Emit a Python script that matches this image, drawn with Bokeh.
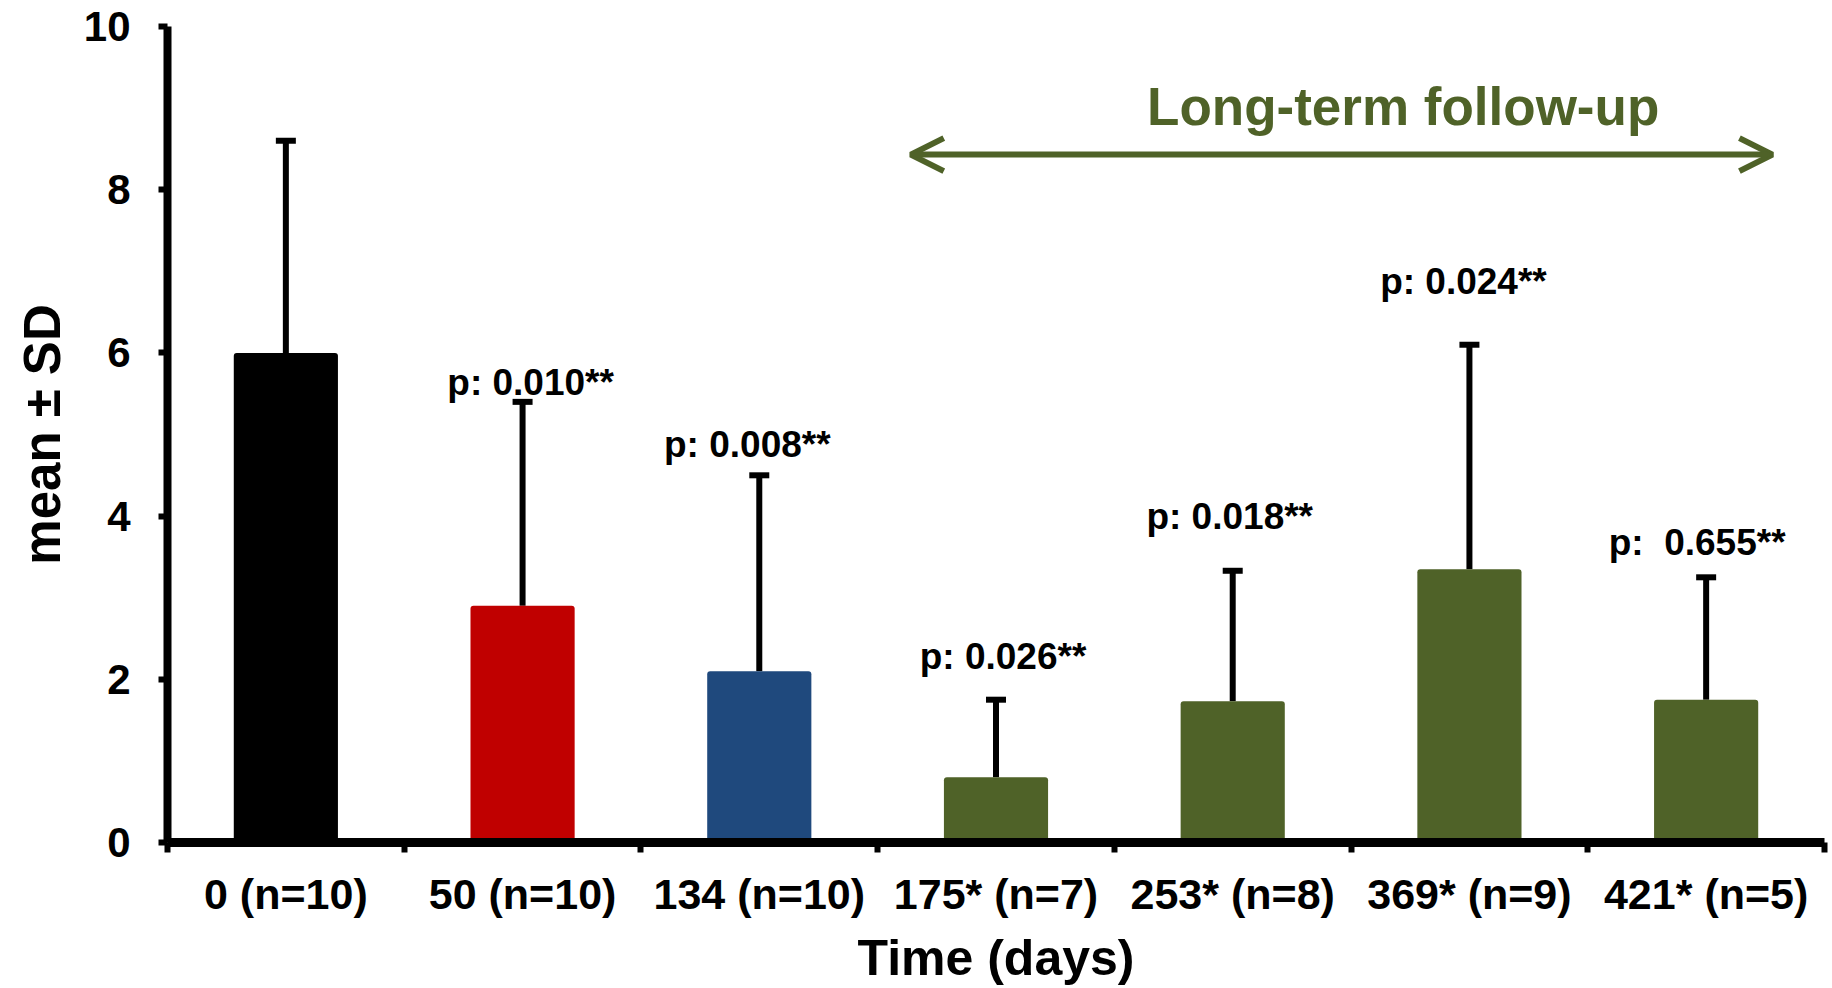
from bokeh.plotting import figure
from bokeh.models import (ColumnDataSource, Range1d, FixedTicker, Whisker, TeeHead,
                          Arrow, OpenHead, Label)
from bokeh.core.properties import value
from bokeh.embed import file_html
from bokeh.resources import INLINE

# Follow-up time points, group means and standard deviations
categories = ["0 (n=10)", "50 (n=10)", "134 (n=10)", "175* (n=7)",
              "253* (n=8)", "369* (n=9)", "421* (n=5)"]
means = [6.0, 2.9, 2.1, 0.8, 1.73, 3.35, 1.75]
sds = [2.6, 2.5, 2.4, 0.95, 1.6, 2.75, 1.5]
bar_colors = ["#000000", "#C00000", "#1F497D", "#4F6228", "#4F6228", "#4F6228", "#4F6228"]

# p-values versus baseline, the height (axis units) at which each is printed,
# and a small horizontal nudge in pixels
p_labels = ["", "p: 0.010**", "p: 0.008**", "p: 0.026**", "p: 0.018**", "p: 0.024**",
            "p:\u00a0 0.655**"]
p_label_y = [0.0, 5.64, 4.88, 2.28, 4.0, 6.87, 3.68]
p_label_dx = [0, 8, -12, 7, -3, -6, -9]

y_ticks = [0, 2, 4, 6, 8, 10]

FONT_NAME = "Liberation Sans"
GREEN = "#4F6228"

xs = list(range(len(categories)))
upper = [m + s for m, s in zip(means, sds)]
src = ColumnDataSource(dict(x=xs, mean=means, upper=upper, color=bar_colors))
lab_src = ColumnDataSource(dict(x=xs[1:], y=p_label_y[1:], text=p_labels[1:], dx=p_label_dx[1:]))

p = figure(width=1832, height=988, output_backend="svg", toolbar_location=None,
           x_range=Range1d(-0.5, len(categories) - 0.5), y_range=Range1d(0, 10),
           min_border_left=167, min_border_right=8, min_border_top=26, min_border_bottom=140)
p.outline_line_color = None
p.grid.visible = False
p.background_fill_color = "white"
p.border_fill_color = "white"

p.vbar(x="x", top="mean", bottom=0, width=0.44, fill_color="color", line_color=None,
       border_radius=3, source=src)

p.add_layout(Whisker(source=src, base="x", lower="mean", upper="upper", dimension="height",
                     line_color="black", line_width=6,
                     upper_head=TeeHead(size=20, line_width=6, line_color="black"),
                     lower_head=None))

p.text(x="x", y="y", text="text", x_offset="dx", source=lab_src, text_font=value(FONT_NAME),
       text_font_style="bold", text_font_size="37px", text_align="center",
       text_baseline="middle", text_color="black")

# Long-term follow-up span
p.add_layout(Arrow(x_start=2.64, x_end=6.28, y_start=8.43, y_end=8.43,
                   line_color=GREEN, line_width=6,
                   start=OpenHead(size=33, line_color=GREEN, line_width=6),
                   end=OpenHead(size=33, line_color=GREEN, line_width=6)))
p.add_layout(Label(x=4.72, y=9.02, text="Long-term follow-up", text_font=FONT_NAME,
                   text_font_style="bold", text_font_size="53px", text_color=GREEN,
                   text_align="center", text_baseline="middle"))

# x axis: labels at bar centres, tick marks between categories
xa = p.xaxis[0]
xa.ticker = FixedTicker(ticks=xs, minor_ticks=[i - 0.5 for i in range(len(categories) + 1)])
xa.major_label_overrides = {i: c for i, c in enumerate(categories)}
xa.major_tick_out = 0
xa.major_tick_in = 0
xa.minor_tick_out = 10
xa.minor_tick_in = 0
xa.minor_tick_line_width = 6
xa.minor_tick_line_color = "black"
xa.axis_line_width = 9
xa.axis_line_color = "black"
xa.major_label_text_font = FONT_NAME
xa.major_label_text_font_style = "bold"
xa.major_label_text_font_size = "43px"
xa.major_label_text_color = "black"
xa.major_label_standoff = 17
xa.axis_label = "Time (days)"
xa.axis_label_text_font = FONT_NAME
xa.axis_label_text_font_style = "bold"
xa.axis_label_text_font_size = "50px"
xa.axis_label_text_color = "black"
xa.axis_label_standoff = 9

ya = p.yaxis[0]
ya.ticker = FixedTicker(ticks=y_ticks, minor_ticks=[])
ya.major_tick_out = 9
ya.major_tick_in = 0
ya.major_tick_line_width = 6
ya.major_tick_line_color = "black"
ya.minor_tick_out = 0
ya.minor_tick_in = 0
ya.axis_line_width = 8
ya.axis_line_color = "black"
ya.major_label_text_font = FONT_NAME
ya.major_label_text_font_style = "bold"
ya.major_label_text_font_size = "42px"
ya.major_label_text_color = "black"
ya.major_label_standoff = 28
ya.axis_label = "mean \u00b1 SD"
ya.axis_label_text_font = FONT_NAME
ya.axis_label_text_font_style = "bold"
ya.axis_label_text_font_size = "51px"
ya.axis_label_text_color = "black"
ya.axis_label_standoff = 10

open("out.html", "w").write(file_html(p, INLINE))
